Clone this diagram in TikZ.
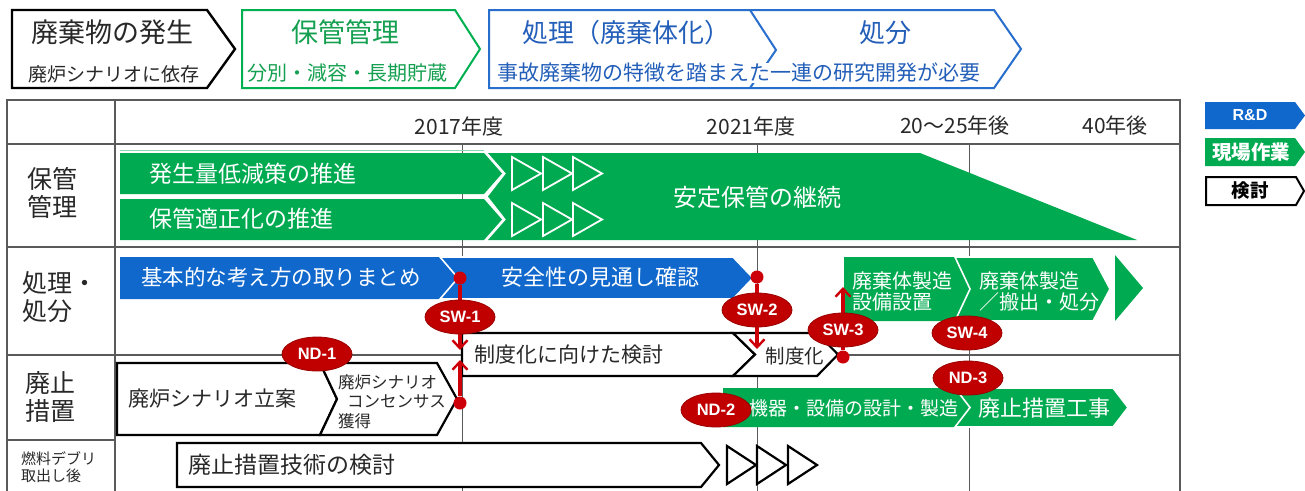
\documentclass[tikz,border=0pt]{standalone}
\usepackage{fontspec}
\setmainfont{Noto Sans CJK JP}
\newfontfamily\labfont{Liberation Sans}
\usetikzlibrary{arrows.meta,shapes.geometric}
\definecolor{gfill}{RGB}{0,170,80}
\definecolor{bfill}{RGB}{16,104,204}
\definecolor{rfill}{RGB}{192,0,0}
\definecolor{rline}{RGB}{205,0,10}
\definecolor{hgreen}{RGB}{0,176,80}
\definecolor{hgtext}{RGB}{20,160,80}
\definecolor{hblue}{RGB}{40,110,205}
\definecolor{hbtext}{RGB}{35,95,185}
\definecolor{gridc}{RGB}{90,90,90}
\definecolor{txtc}{RGB}{40,40,40}
% opts, x1, x2, ytop, ybot, tip, notch
\newcommand\chev[7][]{%
  \path[#1] (#2,#4) -- (#3,#4) -- ({#3+#6},{(#4+#5)/2}) -- (#3,#5) -- (#2,#5) -- ({#2+#7},{(#4+#5)/2}) -- cycle;}
\newcommand\fsz[1]{\fontsize{#1}{#1}\selectfont}
\tikzset{
  whitechev/.style={fill=white, draw=black, line width=2.2pt, line join=miter},
  greenchev/.style={fill=gfill, draw=white, line width=1.6pt, line join=miter},
  bluechev/.style={fill=bfill, draw=white, line width=1.6pt, line join=miter},
  wtxt/.style={text=white, inner sep=0pt},
  ktxt/.style={text=txtc, inner sep=0pt},
  redoval/.style={ellipse, fill=rfill, draw=rfill!80!black, line width=0.8pt, text=white,
     minimum width=70pt, minimum height=34pt, inner sep=0pt, font=\labfont\bfseries\fsz{16.5}},
  reddot/.style={circle, fill=rline, minimum size=13pt, inner sep=0pt},
  redarrow/.style={draw=rline, line width=3.2pt, -{Straight Barb[length=8pt,width=15pt,line width=2.4pt]}},
  gridline/.style={draw=gridc, line width=0.9pt},
  tableline/.style={draw=gridc, line width=1.1pt},
}
\begin{document}
\begin{tikzpicture}[x=1pt,y=-1pt]
\useasboundingbox (0,0) rectangle (1305,490);
\fill[white] (0,0) rectangle (1305,490);

% ---------- top header ----------
\chev[fill=white, draw=black, line width=2.4pt, line join=miter]{12}{207}{10}{88}{28}{0}
\node[ktxt, font=\fsz{27}] (h1a) at (112,32) {廃棄物の発生};
\node[ktxt, font=\fsz{19}] (h1b) at (114,74) {廃炉シナリオに依存};

\chev[fill=white, draw=hgreen, line width=2pt, line join=miter]{242}{455}{10}{88}{25}{0}
\node[text=hgtext, inner sep=0pt, font=\fsz{27}] (h2a) at (345,32) {保管管理};
\node[text=hgtext, inner sep=0pt, font=\fsz{20}] (h2b) at (347,73) {分別・減容・長期貯蔵};

\chev[fill=white, draw=hblue, line width=2pt, line join=miter]{489}{994}{10}{88}{27}{0}
\draw[hblue, line width=2pt] (750,10) -- (776,50) -- (750,88);
\node[text=hbtext, fill=white, inner sep=0pt, font=\fsz{26}] (h3a) at (626,33) {処理（廃棄体化）};
\node[text=hbtext, fill=white, inner sep=0pt, font=\fsz{26}] (h3b) at (885,33) {処分};
\node[text=hbtext, fill=white, inner sep=0pt, font=\fsz{21}] (h3c) at (739,73) {事故廃棄物の特徴を踏まえた一連の研究開発が必要};

% ---------- legend ----------
\chev[fill=bfill]{1205}{1295}{102}{129}{10}{0}
\node[wtxt, font=\labfont\bfseries\fsz{16}] (lg1) at (1250,115.5) {R\&D};
\chev[fill=gfill]{1205}{1295}{138}{166}{10}{0}
\node[wtxt, font=\bfseries\fsz{19.5}] (lg2) at (1251,152) {現場作業};
\chev[fill=white, draw=black, line width=2pt, line join=miter]{1206}{1296}{177}{205}{8}{0}
\node[ktxt, text=black, font=\bfseries\fsz{18.5}] (lg3) at (1250,191) {検討};

% ---------- table ----------
\draw[gridline] (462,144) -- (462,492);
\draw[gridline] (757,144) -- (757,492);
\draw[gridline] (969,144) -- (969,492);
\draw[tableline] (7,100) rectangle (1180,495);
\draw[tableline] (115,100) -- (115,495);
\draw[tableline] (7,144) -- (1180,144);
\draw[tableline] (7,247) -- (1180,247);
\draw[tableline] (7,355) -- (1180,355);
\draw[tableline] (7,440) -- (115,440);

% header years
\node[ktxt, font=\fsz{21}] (y1) at (459,126) {2017年度};
\node[ktxt, font=\fsz{21}] (y2) at (751,126) {2021年度};
\node[ktxt, font=\fsz{21}] (y3) at (955,126) {20〜25年後};
\node[ktxt, font=\fsz{21}] (y4) at (1115,126) {40年後};

% row labels
\node[ktxt, font=\fsz{25}, align=left, anchor=west] (r1) at (27,193) {保管\\[3pt]管理};
\node[ktxt, font=\fsz{25}, align=left, anchor=west] (r2) at (22,297) {処理・\\[3pt]処分};
\node[ktxt, font=\fsz{25}, align=left, anchor=west] (r3) at (25,397) {廃止\\[3pt]措置};
\node[ktxt, font=\fsz{15}, align=left, anchor=west] (r4) at (21,467) {燃料デブリ\\[2pt]取出し後};

% ---------- row 1 : storage ----------
\draw[gfill!45, line width=1pt] (120,150) -- (484,150);
\chev[fill=gfill]{120}{484}{153}{194}{18}{0}
\chev[fill=gfill]{120}{484}{199}{240}{18}{0}
\path[fill=gfill] (488,153) -- (920,153) -- (1137,240) -- (488,240) -- (506,219.5) -- (488,196.5) -- (506,173.5) -- cycle;
\foreach \xx in {512,543,573}{
  \draw[white, line width=1.8pt, line join=miter] (\xx,157) -- (\xx+29,173.5) -- (\xx,190) -- cycle;
  \draw[white, line width=1.8pt, line join=miter] (\xx,203) -- (\xx+29,219.5) -- (\xx,236) -- cycle;
}
\node[wtxt, font=\fsz{23}, anchor=west] (s1) at (149,174) {発生量低減策の推進};
\node[wtxt, font=\fsz{23}, anchor=west] (s2) at (149,219) {保管適正化の推進};
\node[wtxt, font=\fsz{24}] (s3) at (757,197) {安定保管の継続};

% ---------- row 2 : treatment ----------
\chev[fill=bfill]{120}{440}{257}{299}{18}{0}
\chev[bluechev]{440}{733}{257}{299}{20}{18}
\node[wtxt, font=\fsz{21.5}] (p1) at (281,277) {基本的な考え方の取りまとめ};
\node[wtxt, font=\fsz{22}] (p2) at (600,277) {安全性の見通し確認};

\chev[fill=gfill]{844}{955}{257}{321}{15}{0}
\chev[greenchev]{955}{1093}{257}{321}{17}{15}
\path[fill=gfill] (1115,255) -- (1143,288) -- (1115,321) -- cycle;
\node[wtxt, font=\fsz{20}, align=left, anchor=west] (p3) at (852,291) {廃棄体製造\\[1pt]設備設置};
\node[wtxt, font=\fsz{20}, align=left, anchor=west] (p4) at (979,291) {廃棄体製造\\[1pt]／搬出・処分};

\chev[whitechev]{462}{733}{333}{376}{22}{0}
\chev[whitechev]{733}{817}{333}{376}{21}{22}
\node[ktxt, font=\fsz{21}, anchor=west] (p5) at (474,355) {制度化に向けた検討};
\node[ktxt, font=\fsz{19.5}] (p6) at (795,356) {制度化};

% ---------- row 3 : decommissioning ----------
\chev[whitechev]{117}{320}{363}{435}{17}{0}
\chev[whitechev]{320}{437}{363}{435}{20}{17}
\node[ktxt, font=\fsz{21}] (d1) at (212,399) {廃炉シナリオ立案};
\node[ktxt, font=\fsz{16.5}, anchor=west] (d2a) at (338,382) {廃炉シナリオ};
\node[ktxt, font=\fsz{16.5}, anchor=west] (d2b) at (347,401) {コンセンサス};
\node[ktxt, font=\fsz{16.5}, anchor=west] (d2c) at (338,421) {獲得};

\chev[fill=gfill]{723}{955}{388}{427}{15}{0}
\chev[greenchev]{955}{1113}{388}{427}{15}{15}
\node[wtxt, font=\fsz{19}] (d3) at (854,408) {機器・設備の設計・製造};
\node[wtxt, font=\fsz{22}] (d4) at (1044,408) {廃止措置工事};

% ---------- row 4 : after debris removal ----------
\chev[whitechev]{177}{701}{443}{487}{18}{0}
\node[ktxt, font=\fsz{23}, anchor=west] (f1) at (188,465) {廃止措置技術の検討};
\foreach \xx in {727,757,788}{
  \draw[black, line width=2.2pt, line join=miter] (\xx,446) -- (\xx+29,465) -- (\xx,484) -- cycle;
}

% ---------- red markers ----------
\node[reddot] (dot1) at (460,278) {};
\coordinate (arr1) at (460,350);
\draw[redarrow] (dot1) -- (arr1);
\node[reddot] (dot1b) at (460,403) {};
\coordinate (arr1b) at (460,360);
\draw[redarrow] (dot1b) -- (arr1b);
\node[redoval] (sw1) at (460,317) {SW-1};

\node[reddot] (dot2) at (757,277) {};
\coordinate (arr2) at (757,349);
\draw[redarrow] (dot2) -- (arr2);
\node[redoval] (sw2) at (757,310) {SW-2};

\node[reddot] (dot3) at (843,357) {};
\coordinate (arr3) at (843,287);
\draw[redarrow] (dot3) -- (arr3);
\node[redoval] (sw3) at (843,330) {SW-3};

\node[redoval] (sw4) at (967,333) {SW-4};
\node[redoval] (nd3) at (968,378) {ND-3};
\node[redoval] (nd2) at (716,410) {ND-2};
\node[redoval] (nd1) at (317,354) {ND-1};
\end{tikzpicture}
\end{document}
